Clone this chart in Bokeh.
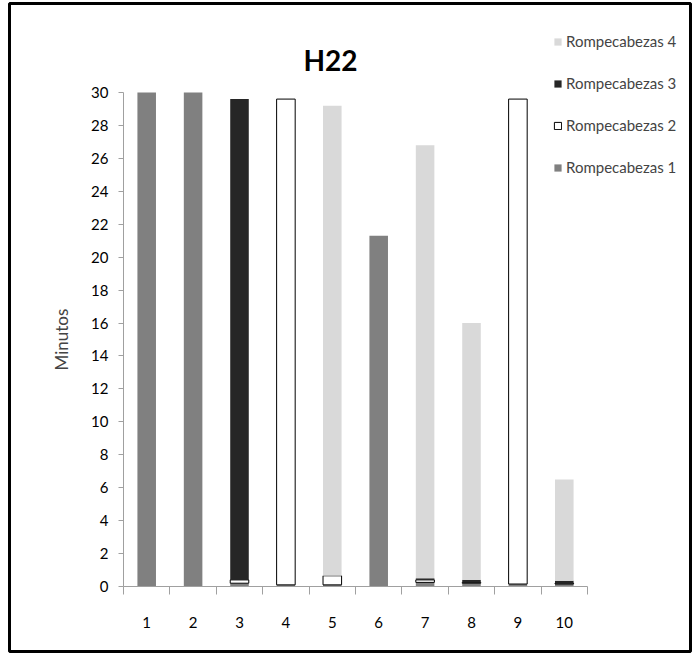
import numpy as np
from bokeh.plotting import figure
from bokeh.models import (ColumnDataSource, FixedTicker, Legend, LegendItem,
                          Label, BoxAnnotation, Range1d)
from bokeh.embed import file_html
from bokeh.resources import INLINE

# Minutes spent on each puzzle, per session
sessions = [1, 2, 3, 4, 5, 6, 7, 8, 9, 10]
tick_labels = ["1", "2", "3", "4", "5", "6", "7", "8", "9", "10"]
puzzle1 = [30.0, 30.0, 0.2, 0.1, 0.1, 21.3, 0.25, 0.2, 0.15, 0.15]
puzzle2 = [0.0, 0.0, 0.2, 29.5, 0.55, 0.0, 0.15, 0.05, 29.45, 0.05]
puzzle3 = [0.0, 0.0, 29.2, 0.0, 0.0, 0.0, 0.1, 0.15, 0.0, 0.15]
puzzle4 = [0.0, 0.0, 0.0, 0.0, 28.55, 0.0, 26.3, 15.6, 0.0, 6.15]

series_names = ["Rompecabezas 1", "Rompecabezas 2", "Rompecabezas 3", "Rompecabezas 4"]
fills = ["#808080", "#ffffff", "#262626", "#d9d9d9"]

FONT = "Lato"
W, H = 693, 655

# The frame fills the whole canvas; the axes sit at fixed data positions
# so the legend and the outer border can be drawn anywhere on the page.
px_x = 46.4      # pixels per session
px_y = 494 / 30  # pixels per minute
x0_px, y0_px = 123, 586
p = figure(width=W, height=H, output_backend="svg", toolbar_location=None,
           title_location=None,
           x_range=Range1d(0.5 - x0_px / px_x, 0.5 + (W - x0_px) / px_x),
           y_range=Range1d(-(H - y0_px) / px_y, y0_px / px_y),
           min_border=0, min_border_left=0, min_border_right=0,
           min_border_top=0, min_border_bottom=0)
p.background_fill_color = "white"
p.border_fill_color = "white"
p.outline_line_color = None
p.xgrid.visible = False
p.ygrid.visible = False

# stacked bars
data = dict(x=sessions)
base = np.zeros(len(sessions))
renderers = []
for i, vals in enumerate([puzzle1, puzzle2, puzzle3, puzzle4]):
    v = np.array(vals)
    data[f"b{i}"] = base.copy()
    data[f"t{i}"] = base + v
    data[f"la{i}"] = np.where(v > 0, 1.0, 0.0)
    base = base + v
src = ColumnDataSource(data)
for i in range(4):
    if i == 1:
        r = p.vbar(x="x", width=0.4, bottom=f"b{i}", top=f"t{i}", source=src,
                   fill_color=fills[i], line_color="black", line_width=1,
                   line_alpha=f"la{i}")
    else:
        r = p.vbar(x="x", width=0.4, bottom=f"b{i}", top=f"t{i}", source=src,
                   fill_color=fills[i], line_color=None)
    renderers.append(r)

# axes
axis_color = "#a0a0a0"
p.xaxis.fixed_location = 0
p.xaxis.bounds = (0.5, 10.5)
p.xaxis.ticker = FixedTicker(ticks=sessions,
                             minor_ticks=[s + 0.5 for s in [0] + sessions])
p.xaxis.major_label_overrides = {s: t for s, t in zip(sessions, tick_labels)}
p.xaxis.major_tick_line_color = None
p.xaxis.minor_tick_out = 8
p.xaxis.minor_tick_in = 0
p.xaxis.minor_tick_line_color = axis_color
p.xaxis.axis_line_color = axis_color
p.xaxis.major_label_standoff = 22
p.xaxis.major_label_text_font = FONT
p.xaxis.major_label_text_font_size = "15px"
p.xaxis.major_label_text_color = "#000000"

p.yaxis.fixed_location = 0.5
p.yaxis.bounds = (0, 30)
p.yaxis.ticker = FixedTicker(ticks=list(range(0, 31, 2)))
p.yaxis.minor_tick_line_color = None
p.yaxis.major_tick_out = 5
p.yaxis.major_tick_in = 0
p.yaxis.major_tick_line_color = axis_color
p.yaxis.axis_line_color = axis_color
p.yaxis.major_label_standoff = 10
p.yaxis.major_label_text_font = FONT
p.yaxis.major_label_text_font_size = "15px"
p.yaxis.major_label_text_color = "#000000"
p.yaxis.axis_label = "Minutos"
p.yaxis.axis_label_text_font = FONT
p.yaxis.axis_label_text_font_style = "normal"
p.yaxis.axis_label_text_font_size = "17px"
p.yaxis.axis_label_standoff = 16

# chart title
p.add_layout(Label(x=330, y=H - 59, x_units="screen", y_units="screen", text="H22",
                   text_font=FONT, text_font_style="bold", text_font_size="28px",
                   text_align="center", text_baseline="middle", text_color="black"))

# legend, top entry first
items = []
for i in [3, 2, 1, 0]:
    items.append(LegendItem(label=series_names[i], renderers=[renderers[i]],
                            index=3 if i == 1 else None))
legend = Legend(items=items, location=(553, H - 176), glyph_width=9, glyph_height=9,
                label_text_font=FONT, label_text_font_size="15px",
                label_standoff=4, spacing=24, padding=0, margin=0,
                border_line_alpha=0, background_fill_alpha=0,
                label_height=17)
p.add_layout(legend, "center")

# frame around the whole chart
p.add_layout(BoxAnnotation(left=9, right=690, top=H - 3, bottom=H - 651,
                           left_units="screen", right_units="screen",
                           top_units="screen", bottom_units="screen",
                           fill_alpha=0, line_color="black", line_alpha=1.0,
                           line_width=3))

open("out.html", "w").write(file_html(p, INLINE))
